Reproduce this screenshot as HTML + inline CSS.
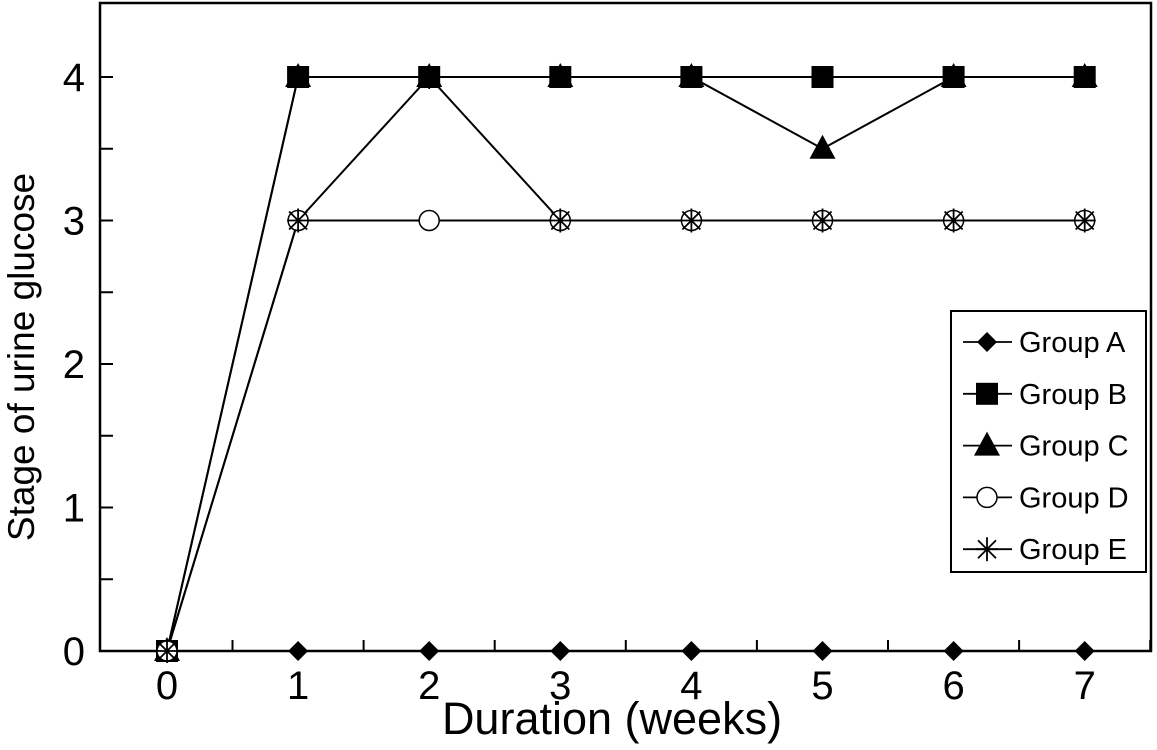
<!DOCTYPE html>
<html><head><meta charset="utf-8"><style>
html,body{margin:0;padding:0;background:#fff;}
svg{display:block;font-family:"Liberation Sans",sans-serif;}
</style></head><body>
<svg id="chart" width="1157" height="750" viewBox="0 0 1157 750">
<rect x="100" y="3" width="1051" height="648" fill="none" stroke="#000" stroke-width="2.5"/>
<g id="axes"></g>
<g id="series"></g>
<text x="612" y="734" font-size="45" text-anchor="middle">Duration (weeks)</text>
<text transform="translate(34,357) rotate(-90)" font-size="37" text-anchor="middle">Stage of urine glucose</text>
<g id="legend"></g>
</svg>
<script>
const weeks=[0,1,2,3,4,5,6,7];
const groupA=[0,0,0,0,0,0,0,0];
const groupB=[0,4,4,4,4,4,4,4];
const groupC=[0,4,4,4,4,3.5,4,4];
const groupD=[0,3,3,3,3,3,3,3];
const groupE=[0,3,4,3,3,3,3,3];
const names=["Group A","Group B","Group C","Group D","Group E"];
const yTicks=[0,1,2,3,4];
const NS="http://www.w3.org/2000/svg";
const X=v=>167+v*131.1, Y=v=>651-v*143.5;
function mk(t,a,p){const e=document.createElementNS(NS,t);for(const k in a)e.setAttribute(k,a[k]);p.appendChild(e);return e;}
const ax=document.getElementById('axes');
for(let v=0;v<=4.01;v+=0.5){const l=mk('line',{x1:100,x2:113,y1:Y(v),y2:Y(v),stroke:'#000','stroke-width':2},ax);

}
yTicks.forEach(v=>{const t=mk('text',{x:85,y:Y(v)+14,'font-size':40,'text-anchor':'end'},ax);t.textContent=v;

});
weeks.forEach(v=>{const t=mk('text',{x:X(v),y:699,'font-size':40,'text-anchor':'middle'},ax);t.textContent=v;


const l=mk('line',{x1:X(v)+65.5,x2:X(v)+65.5,y1:651,y2:640,stroke:'#000','stroke-width':2},ax);

});
function marker(type,x,y,p){
 if(type==0)return mk('polygon',{points:`${x},${y-10} ${x+10},${y} ${x},${y+10} ${x-10},${y}`,fill:'#000'},p);
 if(type==1)return mk('rect',{x:x-11,y:y-11,width:22,height:22,fill:'#000'},p);
 if(type==2)return mk('polygon',{points:`${x},${y-14} ${x+13},${y+10} ${x-13},${y+10}`,fill:'#000'},p);
 if(type==3)return mk('circle',{cx:x,cy:y,r:10,fill:'#fff',stroke:'#000','stroke-width':1.5},p);
 const g=mk('g',{stroke:'#000','stroke-width':1.8},p);
 mk('line',{x1:x-11,y1:y,x2:x+11,y2:y},g);mk('line',{x1:x,y1:y-12,x2:x,y2:y+12},g);
 mk('line',{x1:x-9,y1:y-9,x2:x+9,y2:y+9},g);mk('line',{x1:x-9,y1:y+9,x2:x+9,y2:y-9},g);return g;}
const sg=document.getElementById('series');
const all=[groupA,groupB,groupC,groupD,groupE];
all.forEach((d,i)=>{
 const pl=mk('polyline',{points:d.map((v,j)=>X(weeks[j])+','+Y(v)).join(' '),fill:'none',stroke:'#000','stroke-width':2},sg);
 
 
});
all.forEach((d,i)=>{d.forEach((v,j)=>{const m=marker(i,X(weeks[j]),Y(v),sg);
 
 });});
const lg=document.getElementById('legend');
mk('rect',{x:951,y:311,width:195,height:261,fill:'#fff',stroke:'#000','stroke-width':2},lg);
names.forEach((n,i)=>{const y=342+i*51.8;
 const e=mk('g',{},lg);
 
 
 mk('line',{x1:963,x2:1012,y1:y,y2:y,stroke:'#000','stroke-width':1.8},e);
 marker(i,987,y,e);
 const t=mk('text',{x:1019,y:y+10,'font-size':29},e);t.textContent=n;});
</script>
</body></html>
